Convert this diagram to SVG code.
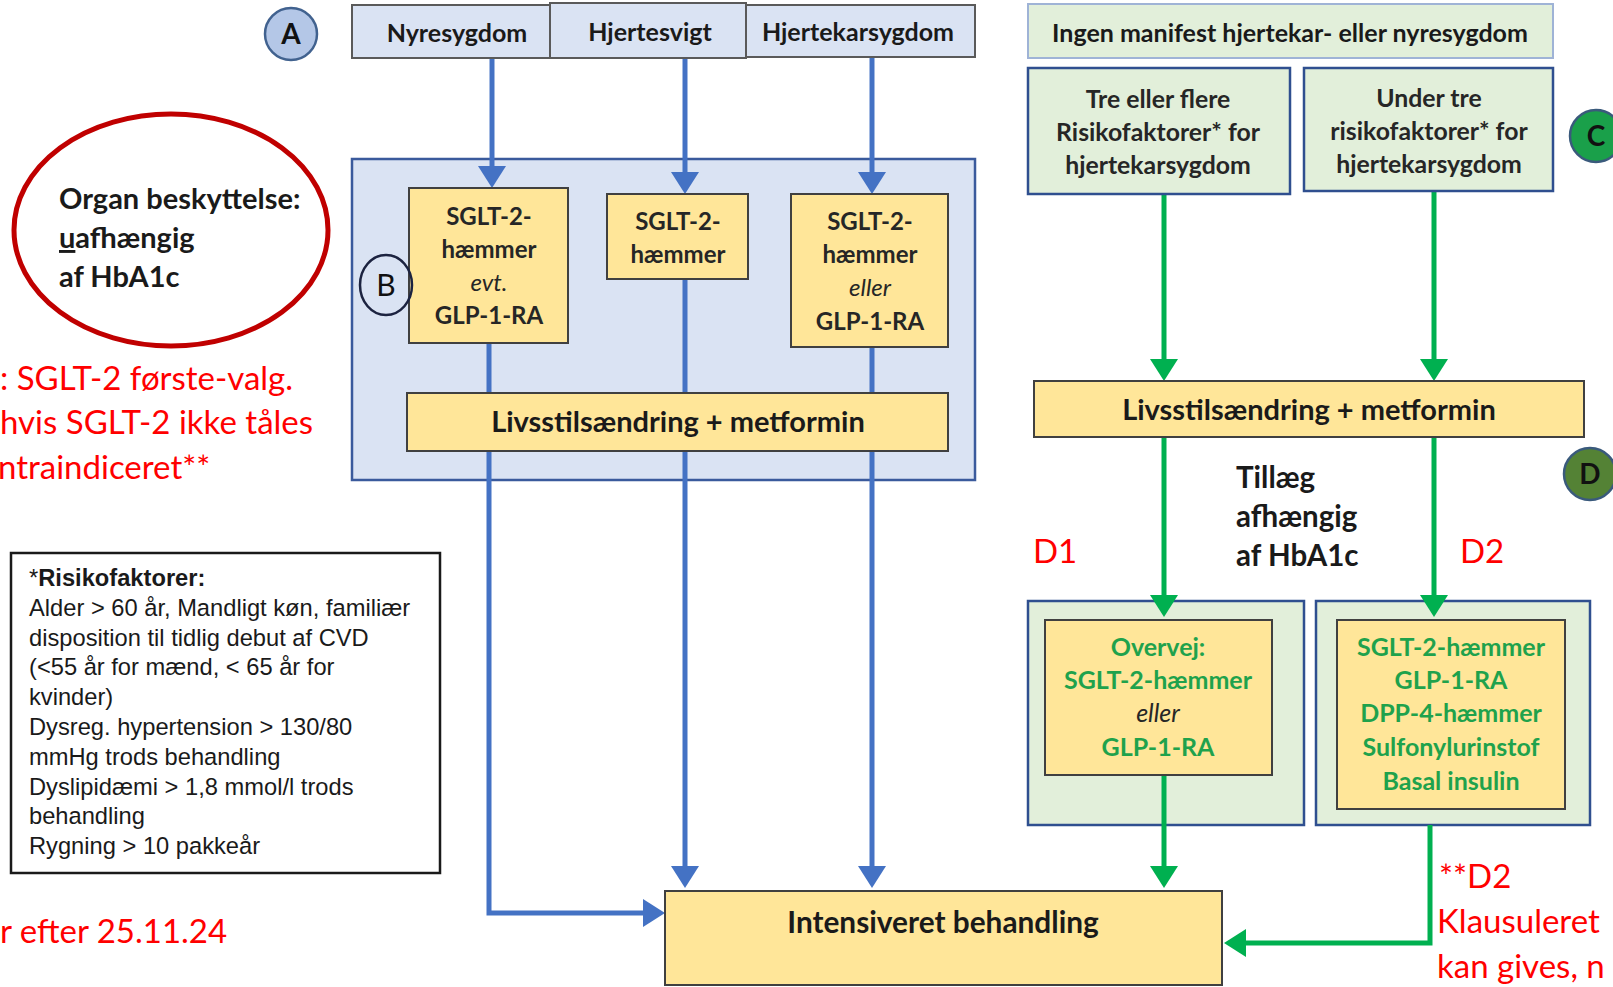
<svg xmlns="http://www.w3.org/2000/svg" width="1613" height="987" viewBox="0 0 1613 987">
<defs>
<style>
.t{font-family:Lato,"Liberation Sans",sans-serif;font-weight:bold;text-anchor:middle;fill:#262626}
.lbl{font-size:25px;fill:#1a1a1a}
.box{font-size:24px}
.gtx{font-size:25px}
.it{font-style:italic;font-weight:normal}
.grn{fill:#1fa24c}
.red{font-family:Lato,"Liberation Sans",sans-serif;font-size:33px;fill:#ff0000}
.risk{font-family:"Liberation Sans",Arial,sans-serif;font-size:23.7px;fill:#1a1a1a}
.yel{fill:#ffe699;stroke:#404040;stroke-width:2}
.top{fill:#dae3f3;stroke:#5a5a5a;stroke-width:2}
.gbox{fill:#e2efda;stroke:#2f4f8f;stroke-width:2.5}
.blue{fill:none;stroke:#4472c4;stroke-width:5}
.green{fill:none;stroke:#00b050;stroke-width:5}
</style>
<marker id="ab" markerUnits="userSpaceOnUse" markerWidth="22" markerHeight="28" refX="2" refY="14" orient="auto"><path d="M0,0 L22,14 L0,28 Z" fill="#4472c4"/></marker>
<marker id="ag" markerUnits="userSpaceOnUse" markerWidth="22" markerHeight="28" refX="2" refY="14" orient="auto"><path d="M0,0 L22,14 L0,28 Z" fill="#00b050"/></marker>
</defs>
<rect width="1613" height="987" fill="#ffffff"/>

<g id="container-b"><rect x="352" y="159" width="623" height="321" fill="#dae3f3" stroke="#3a5a9c" stroke-width="2.5"/></g>
<g id="d1-outer"><rect x="1028" y="601" width="276" height="224" class="gbox"/></g>
<g id="d2-outer"><rect x="1316" y="601" width="274" height="224" class="gbox"/></g>

<g id="connectors">
<path class="blue" d="M492,58 V168" marker-end="url(#ab)"/>
<path class="blue" d="M685,58 V174" marker-end="url(#ab)"/>
<path class="blue" d="M872,57 V174" marker-end="url(#ab)"/>
<path class="blue" d="M489,343 V913 H645" marker-end="url(#ab)"/>
<path class="blue" d="M685,279 V868" marker-end="url(#ab)"/>
<path class="blue" d="M872,347 V868" marker-end="url(#ab)"/>
<path class="green" d="M1164,194 V361" marker-end="url(#ag)"/>
<path class="green" d="M1434,191 V361" marker-end="url(#ag)"/>
<path class="green" d="M1164,437 V597" marker-end="url(#ag)"/>
<path class="green" d="M1434,437 V597" marker-end="url(#ag)"/>
<path class="green" d="M1164,775 V868" marker-end="url(#ag)"/>
<path class="green" d="M1430,825 V943 H1244" marker-end="url(#ag)"/>
</g>

<g id="circle-a"><circle cx="291" cy="34" r="26" fill="#b4c7e7" stroke="#41628f" stroke-width="2.5"/><text x="291" y="44" class="t" style="font-size:28px;fill:#111">A</text></g>

<g id="nyresygdom"><rect x="352" y="5" width="198" height="53" class="top"/><text x="457" y="42" class="t lbl">Nyresygdom</text></g>
<g id="hjertesvigt"><rect x="550" y="3" width="196" height="55" class="top"/><text x="650" y="41" class="t lbl">Hjertesvigt</text></g>
<g id="hjertekarsygdom"><rect x="746" y="5" width="229" height="52" class="top"/><text x="858" y="41" class="t lbl">Hjertekarsygdom</text></g>

<g id="b1"><rect x="409" y="188" width="159" height="155" class="yel"/>
<text x="489" y="225" class="t box">SGLT-2-</text>
<text x="489" y="258" class="t box">hæmmer</text>
<text x="489" y="291" class="t box it">evt.</text>
<text x="489" y="324" class="t box">GLP-1-RA</text></g>
<g id="b2"><rect x="607" y="194" width="141" height="85" class="yel"/>
<text x="678" y="230" class="t box">SGLT-2-</text>
<text x="678" y="263" class="t box">hæmmer</text></g>
<g id="b3"><rect x="791" y="194" width="157" height="153" class="yel"/>
<text x="870" y="230" class="t box">SGLT-2-</text>
<text x="870" y="263" class="t box">hæmmer</text>
<text x="870" y="296" class="t box it">eller</text>
<text x="870" y="330" class="t box">GLP-1-RA</text></g>
<g id="livsstil-left"><rect x="407" y="393" width="541" height="58" class="yel"/><text x="678" y="432" class="t" style="font-size:29px;fill:#1a1a1a">Livsstilsændring + metformin</text></g>
<g id="circle-b"><ellipse cx="386" cy="285" rx="26" ry="30" fill="none" stroke="#1c2340" stroke-width="2.5"/><text x="386" y="296" class="t" style="font-size:30px;font-weight:normal;fill:#111">B</text></g>

<g id="intensiveret"><rect x="665" y="891" width="557" height="94" class="yel"/><text x="943" y="933" class="t" style="font-size:29.8px;fill:#1a1a1a">Intensiveret behandling</text></g>

<g id="organ"><ellipse cx="171" cy="230" rx="157" ry="116" fill="#ffffff" stroke="#c00000" stroke-width="5"/>
<text x="59" y="209" class="t" style="font-size:29px;text-anchor:start;fill:#1a1a1a">Organ beskyttelse:</text>
<text x="59" y="248" class="t" style="font-size:29px;text-anchor:start;fill:#1a1a1a"><tspan text-decoration="underline">u</tspan>afhængig</text>
<text x="59" y="287" class="t" style="font-size:29px;text-anchor:start;fill:#1a1a1a">af HbA1c</text></g>

<g id="red-left">
<text x="0" y="390" class="red">: SGLT-2 første-valg.</text>
<text x="0" y="434" class="red">hvis SGLT-2 ikke tåles</text>
<text x="-2" y="479" class="red">ntraindiceret**</text>
<text x="0" y="943" class="red">r efter 25.11.24</text>
</g>

<g id="risikofaktorer"><rect x="11" y="553" width="429" height="320" fill="#ffffff" stroke="#1a1a1a" stroke-width="2.5"/>
<text x="29" y="586" class="risk">*<tspan font-weight="bold">Risikofaktorer:</tspan></text>
<text x="29" y="616" class="risk">Alder &gt; 60 år, Mandligt køn, familiær</text>
<text x="29" y="646" class="risk">disposition til tidlig debut af CVD</text>
<text x="29" y="675" class="risk">(&lt;55 år for mænd, &lt; 65 år for</text>
<text x="29" y="705" class="risk">kvinder)</text>
<text x="29" y="735" class="risk">Dysreg. hypertension &gt; 130/80</text>
<text x="29" y="765" class="risk">mmHg trods behandling</text>
<text x="29" y="795" class="risk">Dyslipidæmi &gt; 1,8 mmol/l trods</text>
<text x="29" y="824" class="risk">behandling</text>
<text x="29" y="854" class="risk">Rygning &gt; 10 pakkeår</text></g>

<g id="ingen"><rect x="1028" y="4" width="525" height="54" fill="#e2efda" stroke="#9fb3d6" stroke-width="2"/><text x="1290" y="42" class="t" style="font-size:25px;fill:#1a1a1a">Ingen manifest hjertekar- eller nyresygdom</text></g>
<g id="tre"><rect x="1028" y="68" width="262" height="126" class="gbox"/>
<text x="1158" y="108" class="t" style="font-size:24.8px">Tre eller flere</text>
<text x="1158" y="141" class="t" style="font-size:24.8px">Risikofaktorer* for</text>
<text x="1158" y="174" class="t" style="font-size:24.8px">hjertekarsygdom</text></g>
<g id="under"><rect x="1304" y="68" width="249" height="123" class="gbox"/>
<text x="1429" y="107" class="t" style="font-size:24.8px">Under tre</text>
<text x="1429" y="140" class="t" style="font-size:24.8px">risikofaktorer* for</text>
<text x="1429" y="173" class="t" style="font-size:24.8px">hjertekarsygdom</text></g>
<g id="circle-c"><circle cx="1596" cy="136" r="26" fill="#1aa04a" stroke="#3a5a7c" stroke-width="2.5"/><text x="1596" y="146" class="t" style="font-size:28px;fill:#111">C</text></g>
<g id="livsstil-right"><rect x="1034" y="381" width="550" height="56" class="yel"/><text x="1309" y="420" class="t" style="font-size:29px;fill:#1a1a1a">Livsstilsændring + metformin</text></g>
<g id="circle-d"><circle cx="1590" cy="474" r="26" fill="#548235" stroke="#3a5a7c" stroke-width="2.5"/><text x="1590" y="484" class="t" style="font-size:28px;fill:#111">D</text></g>
<g id="tillaeg">
<text x="1236" y="488" class="t" style="font-size:29.5px;text-anchor:start;fill:#1a1a1a">Tillæg</text>
<text x="1236" y="527" class="t" style="font-size:29.5px;text-anchor:start;fill:#1a1a1a">afhængig</text>
<text x="1236" y="566" class="t" style="font-size:29.5px;text-anchor:start;fill:#1a1a1a">af HbA1c</text></g>
<g id="d-labels"><text x="1033" y="563" class="red">D1</text><text x="1460" y="563" class="red">D2</text></g>
<g id="d1-inner"><rect x="1045" y="620" width="227" height="155" class="yel"/>
<text x="1158" y="656" class="t gtx grn">Overvej:</text>
<text x="1158" y="689" class="t gtx grn">SGLT-2-hæmmer</text>
<text x="1158" y="722" class="t gtx it">eller</text>
<text x="1158" y="756" class="t gtx grn">GLP-1-RA</text></g>
<g id="d2-inner"><rect x="1337" y="620" width="228" height="189" class="yel"/>
<text x="1451" y="656" class="t gtx grn">SGLT-2-hæmmer</text>
<text x="1451" y="689" class="t gtx grn">GLP-1-RA</text>
<text x="1451" y="722" class="t gtx grn">DPP-4-hæmmer</text>
<text x="1451" y="756" class="t gtx grn">Sulfonylurinstof</text>
<text x="1451" y="790" class="t gtx grn">Basal insulin</text></g>
<g id="red-right">
<text x="1439" y="888" class="red">**D2</text>
<text x="1437" y="933" class="red">Klausuleret</text>
<text x="1437" y="978" class="red">kan gives, n</text></g>
</svg>
